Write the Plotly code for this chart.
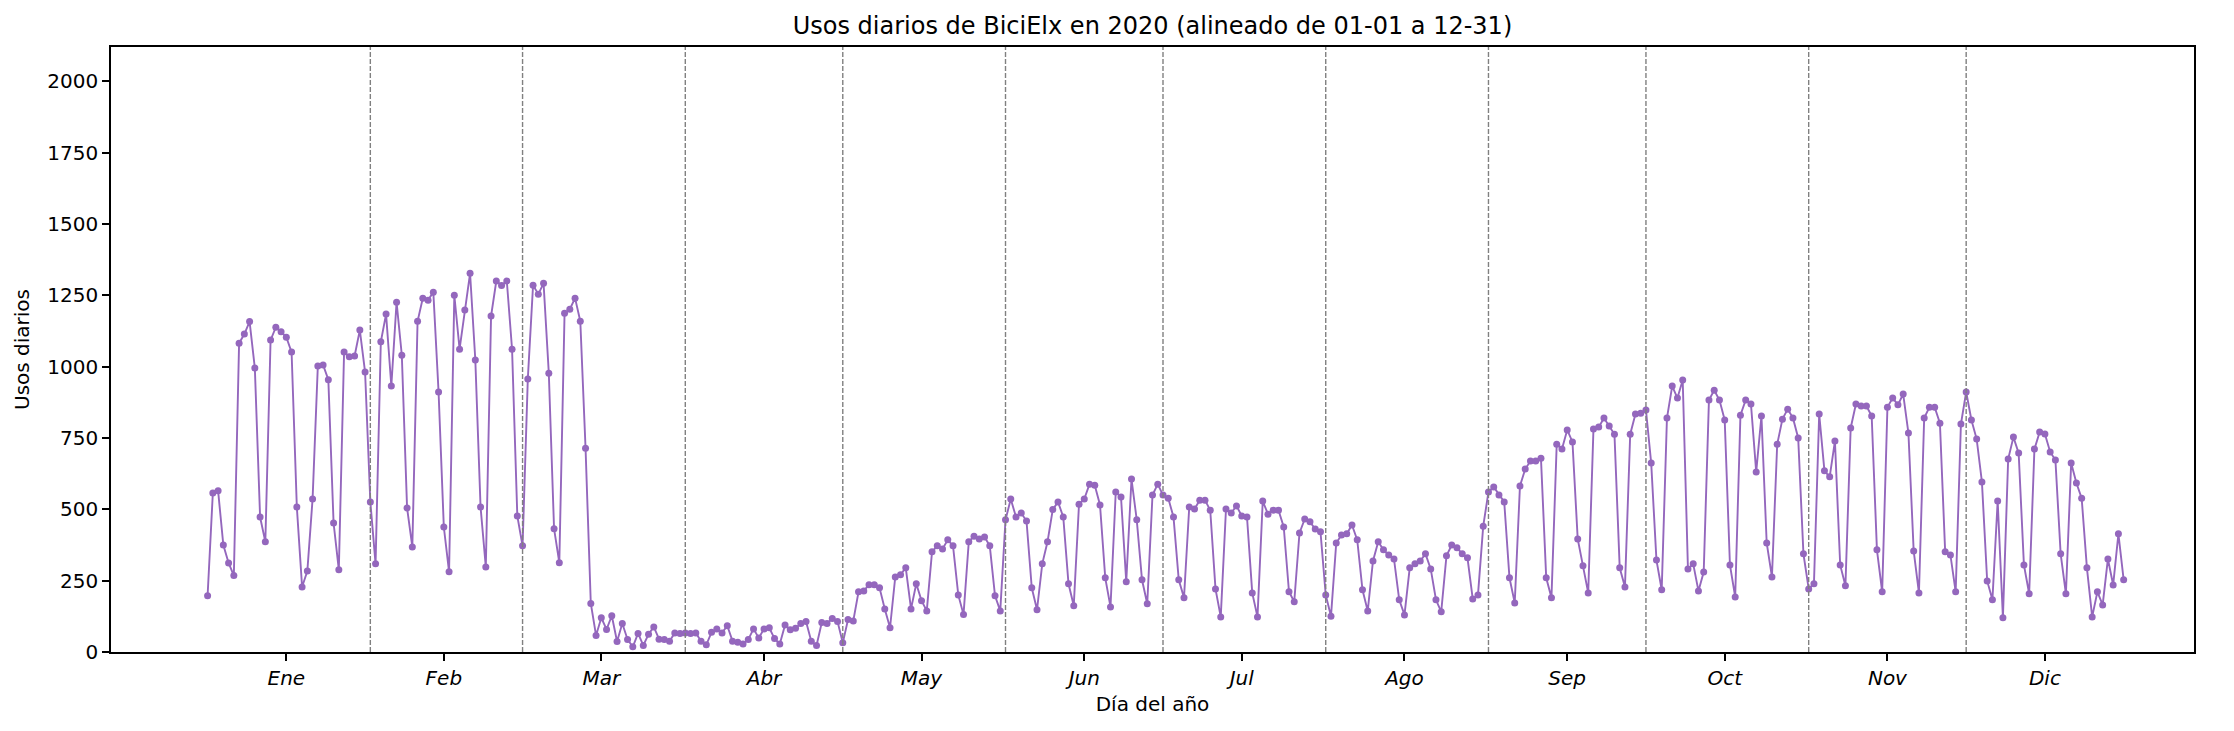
import plotly.graph_objects as go

# Daily usage values per month (2020, leap year)
ene = [197, 557, 565, 375, 312, 268, 1082, 1114, 1158, 995, 473, 386, 1093, 1138, 1122, 1103,
       1051, 508, 228, 284, 536, 1002, 1006, 954, 452, 288, 1051, 1035, 1037, 1128, 981]
feb = [526, 309, 1087, 1184, 932, 1226, 1040, 505, 368, 1159, 1240, 1233, 1261, 911, 438, 281,
       1250, 1061, 1198, 1327, 1023, 508, 298, 1177, 1300, 1284, 1300, 1061, 477]
mar = [372, 957, 1285, 1254, 1292, 977, 432, 313, 1187, 1201, 1240, 1159, 714, 170, 58, 120,
       79, 127, 37, 100, 44, 18, 65, 23, 62, 88, 45, 44, 38, 67, 65]
abr = [67, 65, 67, 38, 25, 69, 81, 67, 92, 38, 34, 28, 44, 81, 49, 81, 85, 47, 28, 95,
       78, 83, 100, 107, 38, 23, 103, 100, 117, 107]
may = [32, 114, 109, 211, 214, 236, 236, 225, 151, 85, 263, 271, 295, 151, 239, 180, 144,
       351, 372, 361, 393, 372, 200, 131, 386, 406, 396, 403, 372, 197, 144]
jun = [463, 536, 473, 487, 459, 225, 148, 309, 386, 499, 526, 473, 239, 162, 518, 536, 588,
       584, 515, 260, 158, 561, 543, 246, 606, 463, 253, 169, 550, 588]
jul = [550, 539, 473, 253, 190, 508, 501, 532, 532, 497, 221, 123, 501, 487, 512, 477, 473,
       207, 123, 529, 483, 497, 497, 438, 211, 176, 417, 466, 456, 431, 421]
ago = [200, 125, 382, 410, 414, 445, 393, 218, 144, 319, 386, 358, 340, 326, 183, 130, 295,
       309, 319, 344, 291, 183, 141, 337, 375, 365, 344, 330, 186, 200, 441]
sep = [561, 578, 550, 526, 260, 172, 582, 641, 669, 669, 679, 260, 190, 728, 711, 778, 736,
       396, 302, 207, 781, 788, 820, 792, 763, 295, 228, 763, 834, 837]
oct_ = [848, 662, 322, 218, 820, 932, 890, 953, 291, 309, 214, 280, 883, 917, 883, 813, 305,
        193, 830, 883, 869, 631, 827, 382, 263, 728, 816, 851, 820, 750, 344]
nov = [221, 239, 834, 635, 614, 739, 305, 232, 785, 869, 862, 862, 827, 358, 211, 858, 890,
       866, 904, 767, 354, 207, 820, 858, 858, 802, 351, 340, 211, 799]
dic = [911, 813, 746, 596, 249, 183, 529, 120, 676, 753, 697, 305, 204, 711, 771, 764, 701,
       673, 344, 204, 662, 592, 539, 295, 123, 211, 165, 326, 235, 414, 253]

month_labels = ["Ene", "Feb", "Mar", "Abr", "May", "Jun", "Jul", "Ago", "Sep", "Oct", "Nov", "Dic"]
month_data = [ene, feb, mar, abr, may, jun, jul, ago, sep, oct_, nov, dic]
y_ticks = [0, 250, 500, 750, 1000, 1250, 1500, 1750, 2000]

values = [v for m in month_data for v in m]
days = list(range(len(values)))

month_starts = []
s = 0
for m in month_data:
    month_starts.append(s)
    s += len(m)
month_mids = [st + len(m) // 2 for st, m in zip(month_starts, month_data)]

color = "#9467bd"
fig = go.Figure()
fig.add_trace(go.Scatter(
    x=days, y=values, mode="lines+markers",
    line=dict(color=color, width=1.9),
    marker=dict(color=color, size=7),
    showlegend=False,
))

for st in month_starts[1:]:
    fig.add_shape(type="line", xref="x", yref="paper", x0=st, x1=st, y0=0, y1=1,
                  line=dict(color="#808080", width=1.4, dash="5px,2px"))

font_family = "DejaVu Sans"
fig.update_layout(
    width=2234, height=731,
    margin=dict(l=111, r=40, t=47, b=79),
    paper_bgcolor="white", plot_bgcolor="white",
    font=dict(family=font_family, size=20, color="black"),
    title=dict(text="Usos diarios de BiciElx en 2020 (alineado de 01-01 a 12-31)",
               x=(111 + 2194) / 2 / 2234, xanchor="center",
               y=1 - 26 / 731, yanchor="middle", yref="container",
               font=dict(size=24, family=font_family, color="black")),
)
fig.update_xaxes(
    range=[-18.4, 378.4],
    tickmode="array", tickvals=month_mids,
    ticktext=["<i>%s</i>" % m for m in month_labels],
    showgrid=False, zeroline=False,
    showline=True, mirror=True, linecolor="black", linewidth=1.6,
    ticks="outside", ticklen=7, tickwidth=1.6, tickcolor="black",
    tickfont=dict(size=20),
    title=dict(text="Día del año", font=dict(size=20), standoff=8),
)
fig.update_yaxes(
    range=[0, 2120],
    tickmode="array", tickvals=y_ticks, ticktext=[str(v) for v in y_ticks],
    showgrid=False, zeroline=False,
    showline=True, mirror=True, linecolor="black", linewidth=1.6,
    ticks="outside", ticklen=7, tickwidth=1.6, tickcolor="black",
    tickfont=dict(size=20),
    title=dict(text="Usos diarios", font=dict(size=20), standoff=12),
)

fig.write_html("out.html")
